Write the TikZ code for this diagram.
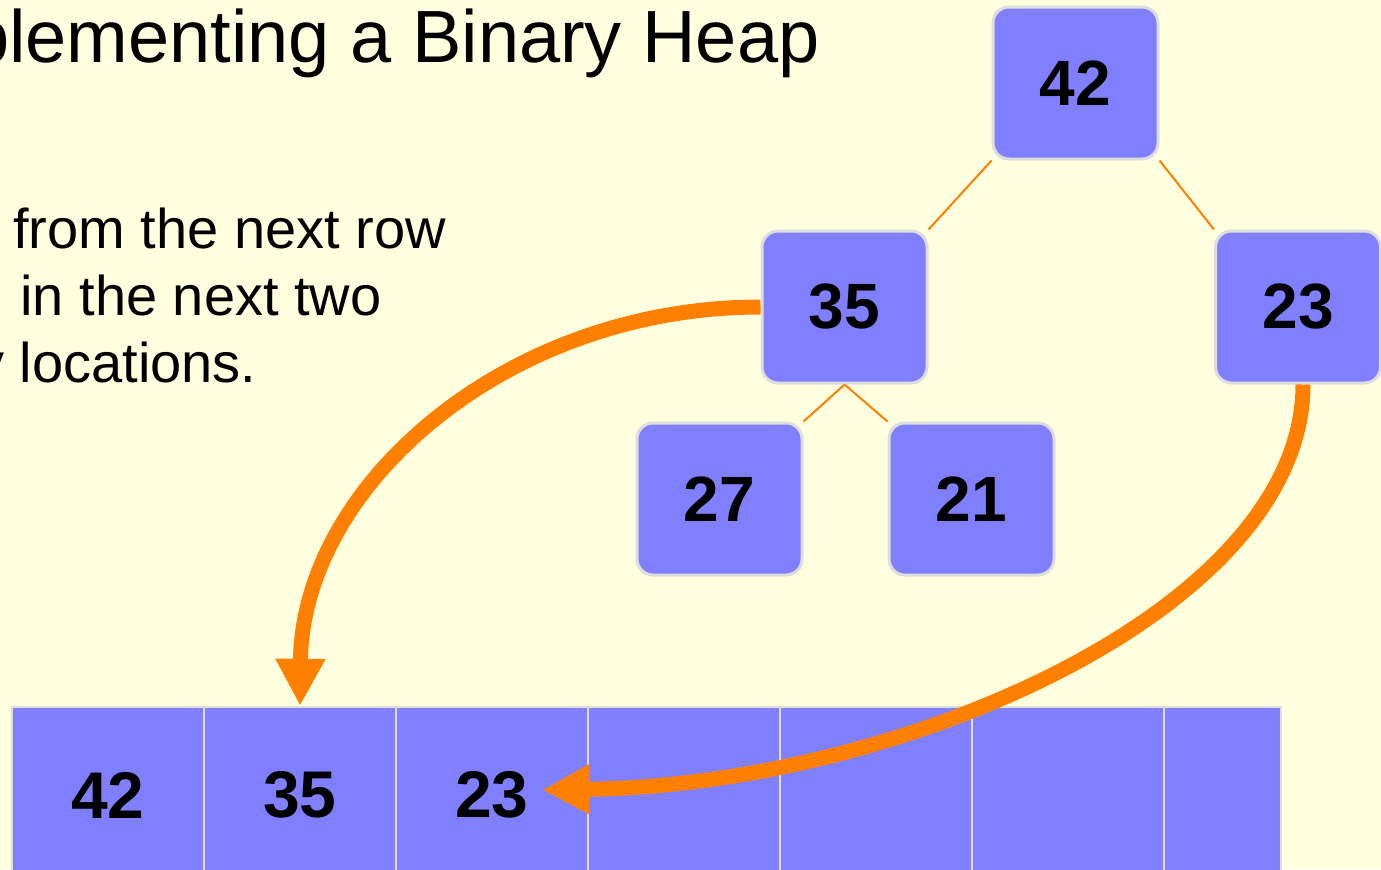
\documentclass[tikz,border=0pt]{standalone}
\usepackage{fontspec}
\setmainfont{Liberation Sans}
\usetikzlibrary{arrows.meta}
\definecolor{slide}{RGB}{255,255,224}
\definecolor{heapfill}{RGB}{128,128,255}
\definecolor{heapline}{RGB}{221,221,221}
\definecolor{heaporange}{RGB}{255,128,0}
\tikzstyle{heapnode} = [draw=heapline, line width=1.5pt, fill=heapfill, rounded corners=8pt, minimum width=82.5pt, minimum height=76pt, font=\fontsize{32}{38}\selectfont\bfseries]
\tikzstyle{cell} = [draw=heapline, line width=1.2pt, fill=heapfill, minimum width=96pt, minimum height=88pt, font=\fontsize{33}{40}\selectfont\bfseries]
\tikzstyle{treeedge} = [draw=heaporange, line width=1pt]
\tikzstyle{copyarrow} = [draw=heaporange, line width=7.5pt, -{Triangle[length=23.5pt,width=23.5pt]}]

\begin{document}
\begin{tikzpicture}[x=0.5pt, y=-0.5pt]

        \useasboundingbox (0,0) rectangle (1381,869);
        \clip (0,0) rectangle (1381,869);
        \fill[slide] (0,0) rectangle (1381,869);

        \node[anchor=base east, inner sep=0pt, font=\fontsize{37}{44}\selectfont] (title) at (820,62) {plementing a Binary Heap};

        \node[anchor=base west, inner sep=0pt, font=\fontsize{28}{34}\selectfont] (line1) at (13,248) {from the next row};
        \node[anchor=base west, inner sep=0pt, font=\fontsize{28}{34}\selectfont] (line2) at (20,315) {in the next two};
        \node[anchor=base east, inner sep=0pt, font=\fontsize{28}{34}\selectfont] (line3) at (257,382) {y locations.};

        % the tree
        \node[heapnode] (n42) at (1075.5,83) {42};
        \node[heapnode] (n35) at (844.5,307) {35};
        \node[heapnode] (n23) at (1298,307) {23};
        \node[heapnode] (n27) at (719.5,499) {27};
        \node[heapnode] (n21) at (971.5,499) {21};

        \draw[treeedge] (n42.south west) -- (n35.north east);
        \draw[treeedge] (n42.south east) -- (n23.north west);
        \draw[treeedge] (n35.south) -- (n27.north east);
        \draw[treeedge] (n35.south) -- (n21.north west);

        % the array
        \node[cell] (a1) at (108,795) {42};
        \node[cell] (a2) at (300,795) {35};
        \node[cell] (a3) at (492,795) {23};
        \node[cell] (a4) at (684,795) {};
        \node[cell] (a5) at (876,795) {};
        \node[cell] (a6) at (1068,795) {};
        \node[cell, minimum width=58.5pt] (a7) at (1222.5,795) {};

        \draw[copyarrow] (n35.west) .. controls (506,307) and (302,486) .. (a2.north);
        \draw[copyarrow] ([xshift=2.5pt]n23.south) .. controls (1303,610) and (900,785) .. ([xshift=-23.5pt, yshift=2.5pt]a3.east);

\end{tikzpicture}
\end{document}
